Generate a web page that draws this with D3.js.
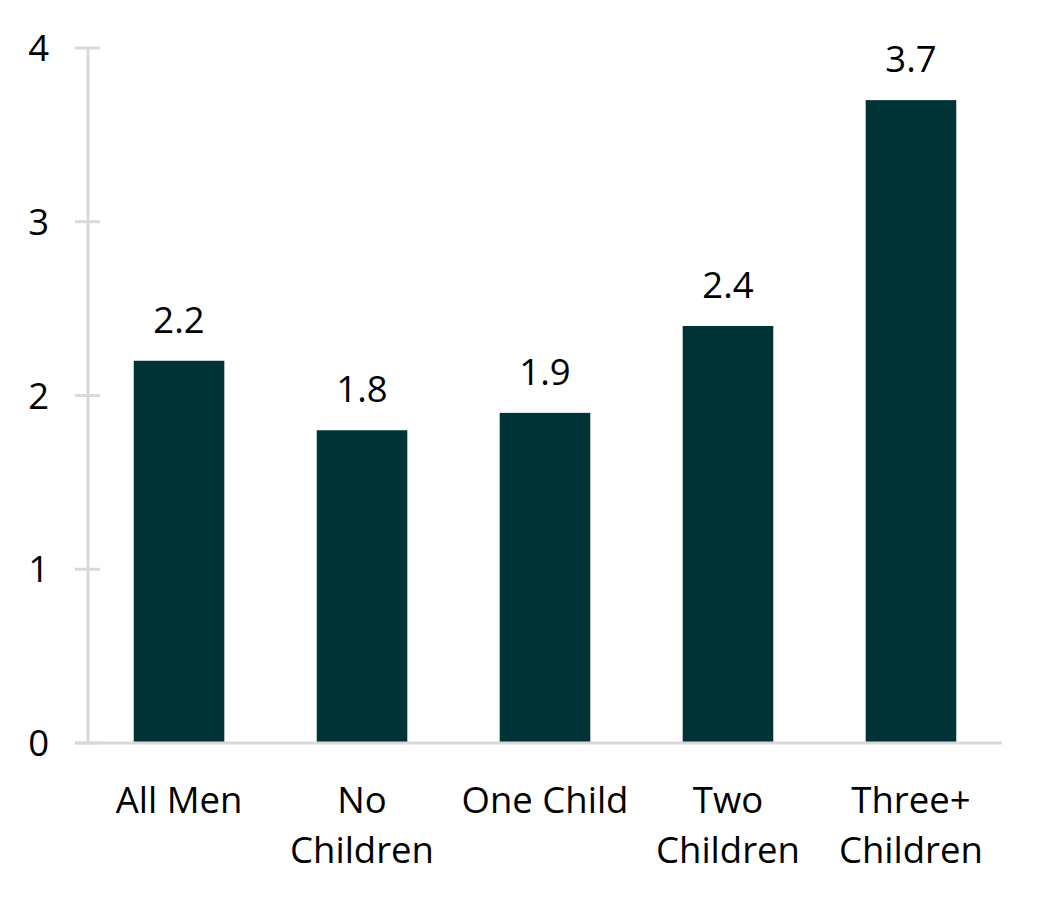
<!DOCTYPE html>
<html><head><meta charset="utf-8">
<script src="https://cdn.jsdelivr.net/npm/d3@7"></script>
<style>body{margin:0;background:#fff}svg{display:block}text{font-family:"Open Sans",Lato,sans-serif;fill:#000}</style>
</head><body>
<script>
const categories = [["All Men"], ["No","Children"], ["One Child"], ["Two","Children"], ["Three+","Children"]];
const values = [2.2, 1.8, 1.9, 2.4, 3.7];
const valueLabels = ["2.2","1.8","1.9","2.4","3.7"];
const yTicks = [0,1,2,3,4];

const W = 1047, H = 897;
const svg = d3.select("body").append("svg").attr("width", W).attr("height", H);
const x0 = 88, x1 = 1002, yTop = 48, yBot = 743;
const x = d3.scaleBand().domain(d3.range(values.length)).range([x0, x1]).paddingInner(0.505).paddingOuter(0.25);
const y = d3.scaleLinear().domain([0, 4]).range([yBot, yTop]);
const grid = "#d9d9d9";
const fs = 36.5;

svg.selectAll("rect.bar").data(values).enter().append("rect")
  .attr("x", (d,i) => x(i)).attr("width", x.bandwidth())
  .attr("y", d => y(d)).attr("height", d => y(0) - y(d))
  .attr("fill", "#003335");

svg.append("line").attr("x1", x0).attr("x2", x0).attr("y1", y(4)).attr("y2", y(0)).attr("stroke", grid).attr("stroke-width", 3);
svg.selectAll("line.tick").data(yTicks).enter().append("line")
  .attr("x1", 75).attr("x2", 100).attr("y1", d => y(d)).attr("y2", d => y(d))
  .attr("stroke", grid).attr("stroke-width", 3);
svg.append("line").attr("x1", 75).attr("x2", x1).attr("y1", y(0)).attr("y2", y(0)).attr("stroke", grid).attr("stroke-width", 3);

svg.selectAll("text.yl").data(yTicks).enter().append("text")
  .attr("x", 49).attr("y", d => y(d)).attr("dy", "0.36em").attr("text-anchor", "end")
  .attr("font-size", fs).text(d => d);

svg.selectAll("text.vl").data(values).enter().append("text")
  .attr("x", (d,i) => x(i) + x.bandwidth()/2).attr("y", d => y(d) - 28)
  .attr("text-anchor", "middle").attr("font-size", fs).text((d,i) => valueLabels[i]);

const cl = svg.selectAll("text.cl").data(categories).enter().append("text")
  .attr("x", (d,i) => x(i) + x.bandwidth()/2).attr("y", 813)
  .attr("text-anchor", "middle").attr("font-size", fs);
cl.selectAll("tspan").data(d => d).enter().append("tspan")
  .attr("x", function(){ return this.parentNode.getAttribute("x"); })
  .attr("dy", (d,i) => i === 0 ? 0 : 50).text(d => d);
</script>
</body></html>
